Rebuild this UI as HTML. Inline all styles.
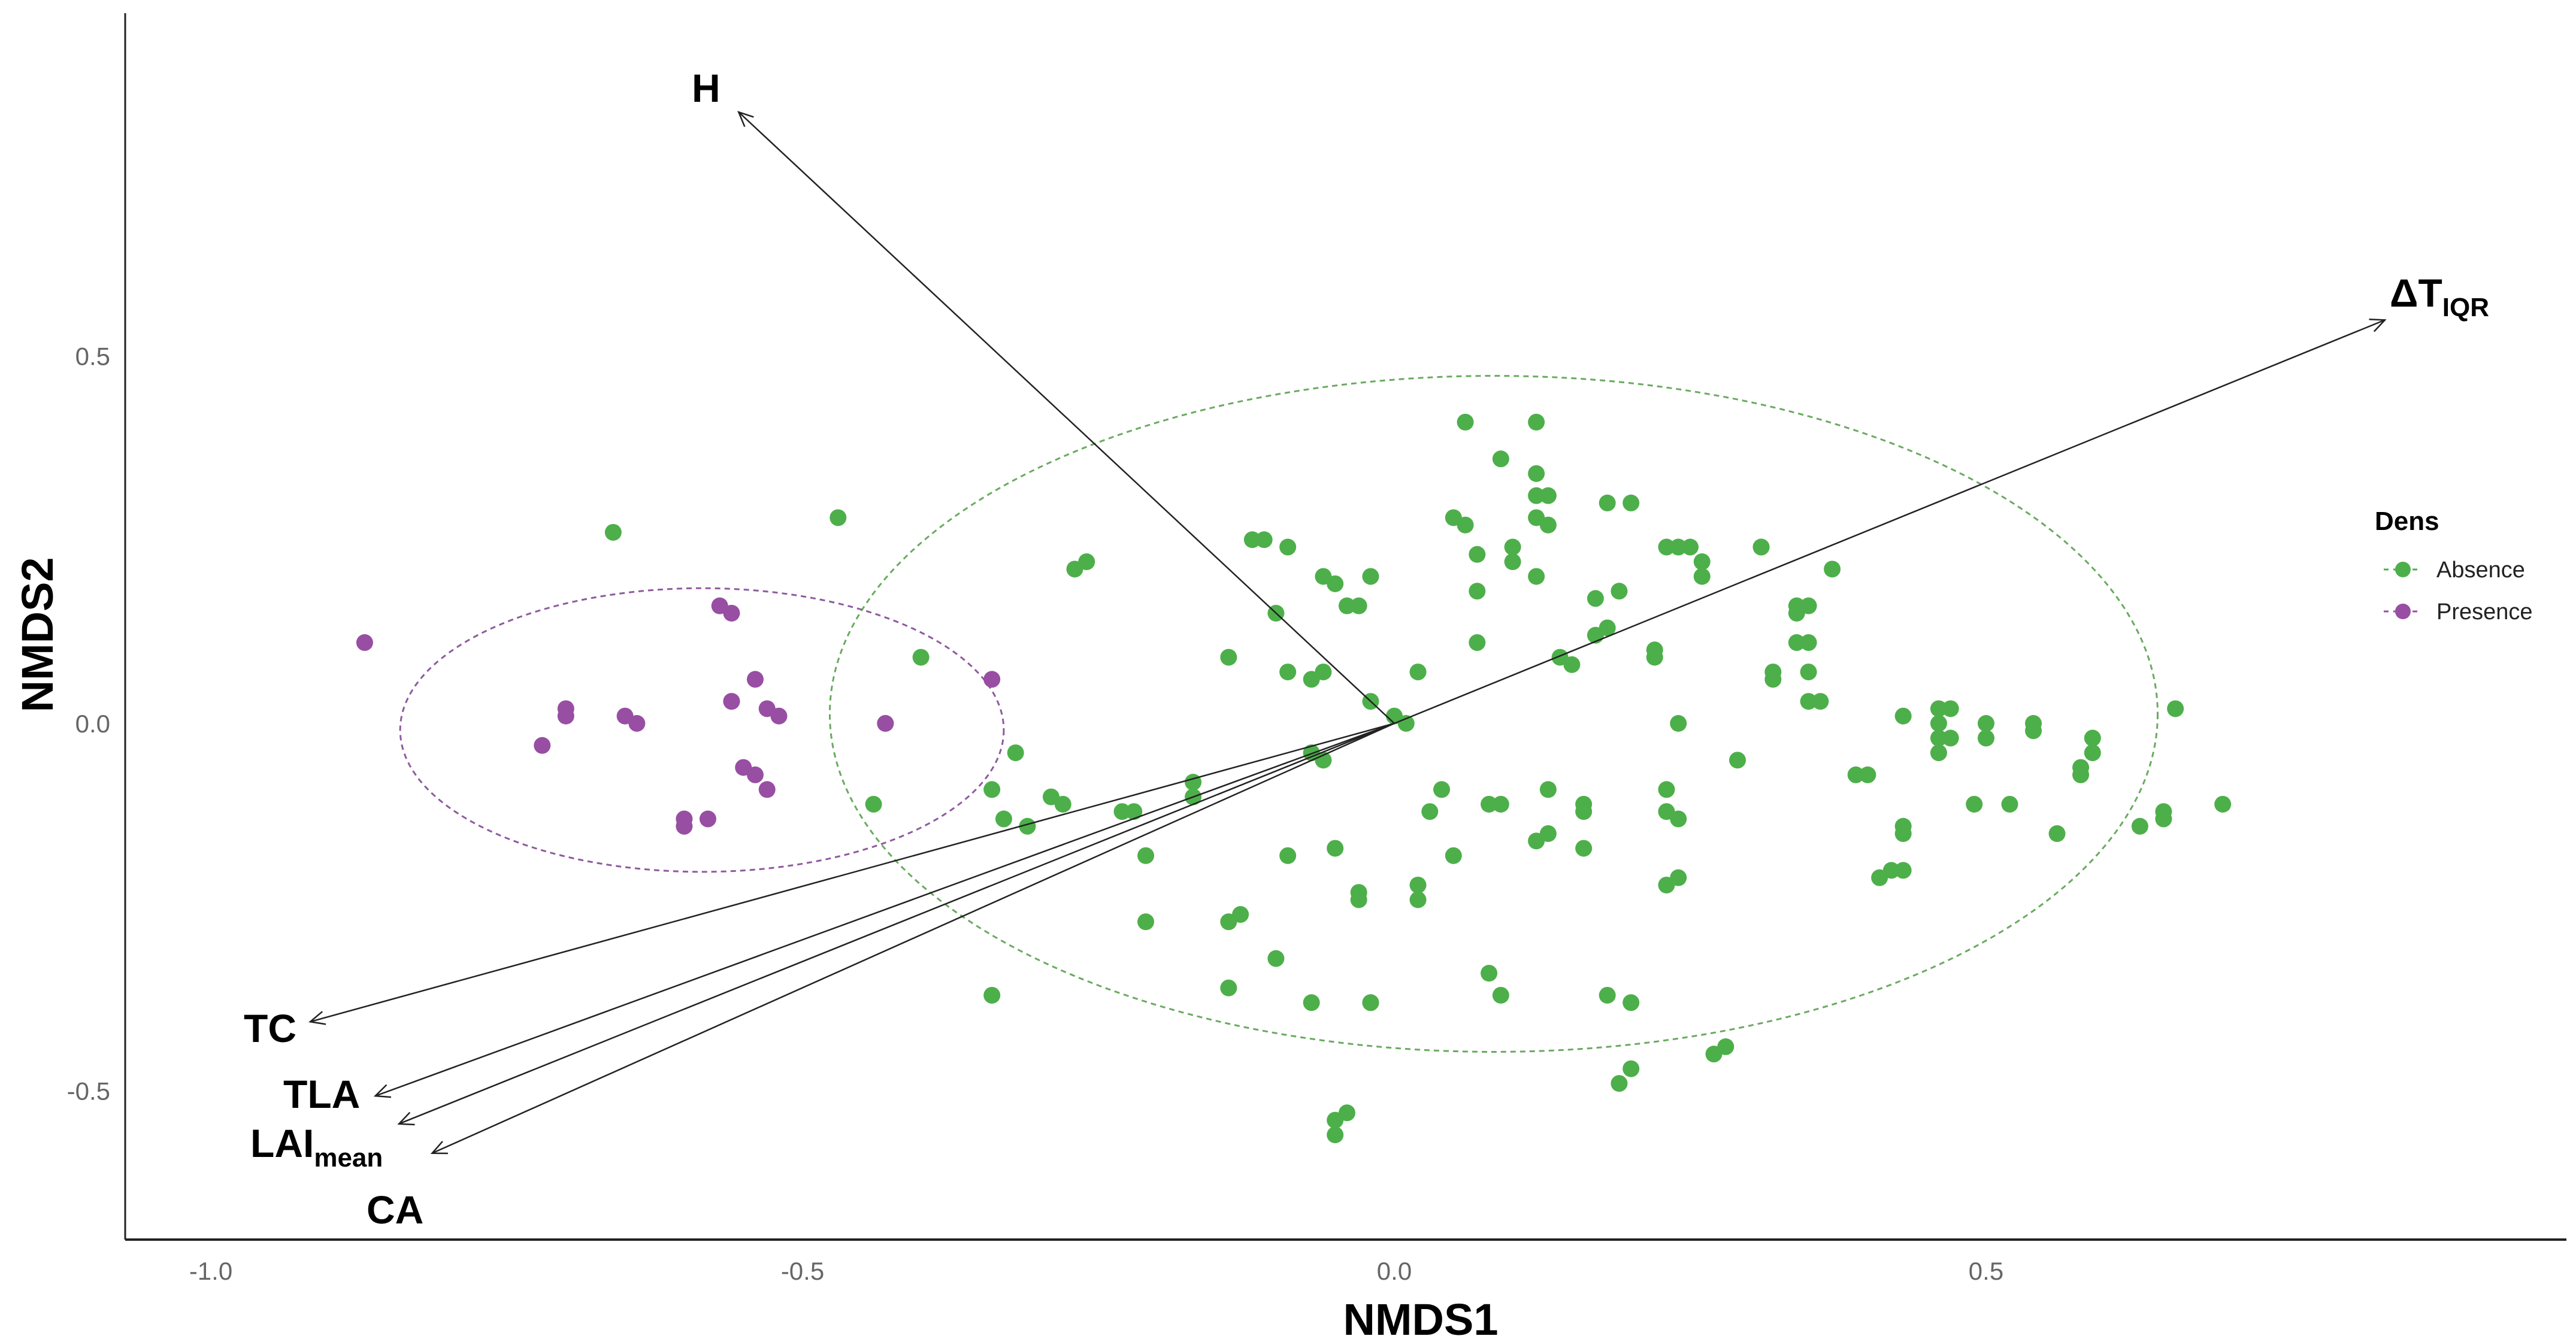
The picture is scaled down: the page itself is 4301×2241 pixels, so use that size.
<!DOCTYPE html>
<html><head><meta charset="utf-8"><style>
html,body{margin:0;padding:0;background:#fff;}
svg{display:block;}
text{font-family:"Liberation Sans",sans-serif;}
</style></head><body>
<svg id="chart" width="4301" height="2241" viewBox="0 0 4301 2241" xmlns="http://www.w3.org/2000/svg">
<defs>
<marker id="ah" markerWidth="30" markerHeight="30" refX="27" refY="15" orient="auto" markerUnits="userSpaceOnUse">
<path d="M3,4 L27,15 L3,26" fill="none" stroke="#222" stroke-width="2.5"/>
</marker>
</defs>
<g id="ellipses"></g>
<g id="points"></g>
<g id="arrows"></g>
<g id="axes"></g>
<g id="labels"></g>
<text x="2372" y="2229" font-size="74" font-weight="bold" text-anchor="middle">NMDS1</text>
<text transform="translate(88,1060) rotate(-90)" font-size="74" font-weight="bold" text-anchor="middle">NMDS2</text>
<g>
<text x="3965" y="885" font-size="44" font-weight="bold">Dens</text>
<g>
<line x1="3980" y1="951" x2="4044" y2="951" stroke="#4daf4a" stroke-width="3" stroke-dasharray="8 8"/>
<circle cx="4012" cy="951" r="13" fill="#4daf4a"/>
<text x="4068" y="964" font-size="38" fill="#222">Absence</text>
</g>
<g>
<line x1="3980" y1="1021" x2="4044" y2="1021" stroke="#984ea3" stroke-width="3" stroke-dasharray="8 8"/>
<circle cx="4012" cy="1021" r="13" fill="#984ea3"/>
<text x="4068" y="1034" font-size="38" fill="#222">Presence</text>
</g>
</g>
</svg>
<script>
const xTicks = [-1.0, -0.5, 0.0, 0.5];
const xTickLabels = ["-1.0", "-0.5", "0.0", "0.5"];
const yTicks = [-0.5, 0.0, 0.5];
const yTickLabels = ["-0.5", "0.0", "0.5"];
const presenceX = [-0.87,-0.70,-0.70,-0.72,-0.65,-0.64,-0.60,-0.60,-0.58,-0.57,-0.56,-0.56,-0.56,-0.54,-0.53,-0.52,-0.55,-0.54,-0.53,-0.43,-0.43,-0.34];
const presenceY = [0.11,0.02,0.01,-0.03,0.01,0.00,-0.13,-0.14,-0.13,0.16,0.15,0.03,0.03,0.06,0.02,0.01,-0.06,-0.07,-0.09,0.00,0.00,0.06];
const absenceX = [-0.66,-0.47,-0.40,-0.44,-0.34,-0.34,-0.32,-0.33,-0.31,-0.29,-0.28,-0.27,-0.26,-0.23,-0.22,-0.21,-0.21,-0.17,-0.17,-0.14,-0.12,-0.11,-0.09,-0.10,-0.14,-0.13,-0.14,-0.10,-0.09,-0.09,-0.07,-0.07,-0.06,-0.06,-0.05,-0.05,-0.04,-0.03,-0.02,-0.02,-0.06,-0.03,-0.03,-0.02,-0.02,-0.05,-0.05,-0.04,-0.07,0.00,0.01,0.02,0.02,0.02,0.03,0.04,0.05,0.06,0.05,0.06,0.07,0.07,0.07,0.08,0.09,0.08,0.09,0.09,0.10,0.10,0.12,0.12,0.12,0.13,0.12,0.12,0.13,0.12,0.13,0.13,0.14,0.15,0.16,0.16,0.17,0.16,0.17,0.18,0.18,0.20,0.19,0.18,0.19,0.20,0.20,0.22,0.22,0.23,0.24,0.23,0.24,0.23,0.24,0.25,0.26,0.26,0.24,0.23,0.27,0.28,0.29,0.31,0.31,0.32,0.32,0.34,0.34,0.35,0.34,0.35,0.35,0.35,0.36,0.37,0.39,0.40,0.41,0.42,0.43,0.43,0.46,0.46,0.47,0.46,0.47,0.43,0.43,0.46,0.49,0.50,0.50,0.52,0.54,0.54,0.56,0.58,0.59,0.59,0.58,0.63,0.65,0.65,0.66,0.70];
const absenceY = [0.26,0.28,0.09,-0.11,-0.09,-0.37,-0.04,-0.13,-0.14,-0.10,-0.11,0.21,0.22,-0.12,-0.12,-0.18,-0.27,-0.08,-0.10,0.09,0.25,0.25,0.24,0.15,-0.36,-0.26,-0.27,-0.32,-0.18,0.07,0.06,-0.04,0.07,0.20,0.19,-0.17,0.16,0.16,0.20,0.03,-0.05,-0.24,-0.23,-0.38,-0.38,-0.56,-0.54,-0.53,-0.38,0.01,0.00,-0.22,-0.24,0.07,-0.12,-0.09,-0.18,0.41,0.28,0.27,0.23,0.11,0.18,-0.34,-0.37,-0.11,-0.11,0.36,0.24,0.22,0.41,0.31,0.34,0.31,0.28,0.20,0.27,-0.16,-0.15,-0.09,0.09,0.08,-0.11,-0.12,0.17,-0.17,0.12,0.13,0.30,0.30,0.18,-0.37,-0.49,-0.47,-0.38,0.10,0.09,-0.09,0.00,-0.12,-0.13,0.24,0.24,0.24,0.20,0.22,-0.21,-0.22,-0.45,-0.44,-0.05,0.24,0.24,0.07,0.06,0.15,0.16,0.16,0.11,0.11,0.07,0.03,0.03,0.21,-0.07,-0.07,-0.21,-0.20,-0.20,0.01,0.00,0.02,0.02,-0.02,-0.02,-0.14,-0.15,-0.04,-0.11,0.00,-0.02,-0.11,0.00,-0.01,-0.15,-0.06,-0.04,-0.02,-0.07,-0.14,-0.13,-0.12,0.02,-0.11];
const vectorNames = ["H","ΔT","TC","TLA","LAI","CA"];
const vectorX = [-0.554, 0.837, -0.916, -0.861, -0.841, -0.813];
const vectorY = [0.832, 0.549, -0.406, -0.507, -0.545, -0.585];
const ellipseCx = [0.084, -0.585];
const ellipseCy = [0.013, -0.009];
const ellipseRx = [0.561, 0.255];
const ellipseRy = [0.46, 0.193];

const X0 = 2328, XS = 1976, Y0 = 1208, YS = 1227;
function sx(v){ return X0 + v*XS; }
function sy(v){ return Y0 - v*YS; }
const NS = "http://www.w3.org/2000/svg";
function mk(tag, parent, attrs){
  const e = document.createElementNS(NS, tag);
  for (const k in attrs) e.setAttribute(k, attrs[k]);
  parent.appendChild(e);
  return e;
}
const gE = document.getElementById('ellipses');
const gP = document.getElementById('points');
const gA = document.getElementById('arrows');
const gX = document.getElementById('axes');
const gL = document.getElementById('labels');

let ax = mk('line', gX, {x1:209,y1:22,x2:209,y2:2070,stroke:'#222','stroke-width':3});


ax = mk('line', gX, {x1:209,y1:2070,x2:4285,y2:2070,stroke:'#222','stroke-width':4});


xTicks.forEach((v,i)=>{
  const t = mk('text', gX, {x:sx(v), y:2137, 'font-size':42, fill:'#666', 'text-anchor':'middle'});
  t.textContent = xTickLabels[i];
  
  
});
yTicks.forEach((v,i)=>{
  const t = mk('text', gX, {x:184, y:sy(v)+15, 'font-size':42, fill:'#666', 'text-anchor':'end'});
  t.textContent = yTickLabels[i];
  
  
});

const eCol = ['#6aaa60', '#8e5b9e'];
const eNames = ['ellipse-absence', 'ellipse-presence'];
ellipseCx.forEach((c,i)=>{
  const e = mk('ellipse', gE, {cx:sx(c), cy:sy(ellipseCy[i]), rx:ellipseRx[i]*XS, ry:ellipseRy[i]*YS, fill:'none', stroke:eCol[i], 'stroke-width':3, 'stroke-dasharray':'9 7'});
  
  
});

absenceX.forEach((v,i)=>{
  const c = mk('circle', gP, {cx:sx(v), cy:sy(absenceY[i]), r:14, fill:'#4daf4a'});
  
  
});
presenceX.forEach((v,i)=>{
  const c = mk('circle', gP, {cx:sx(v), cy:sy(presenceY[i]), r:14, fill:'#984ea3'});
  
  
});

vectorX.forEach((v,i)=>{
  const l = mk('line', gA, {x1:sx(0), y1:sy(0), x2:sx(v), y2:sy(vectorY[i]), stroke:'#222', 'stroke-width':2.5, 'marker-end':'url(#ah)'});
  
  
});

function lbl(x, y, main, sub){
  const t = mk('text', gL, {x:x, y:y, 'font-size':66, 'font-weight':'bold', fill:'#000'});
  t.textContent = main;
  if (sub){
    const s = mk('tspan', t, {'font-size':44, dy:16});
    s.textContent = sub;
  }
  
  
}
lbl(1155, 170, 'H');
lbl(3990, 512, 'ΔT', 'IQR');
lbl(407, 1740, 'TC');
lbl(473, 1850, 'TLA');
lbl(418, 1932, 'LAI', 'mean');
lbl(612, 2043, 'CA');
</script>
</body></html>
